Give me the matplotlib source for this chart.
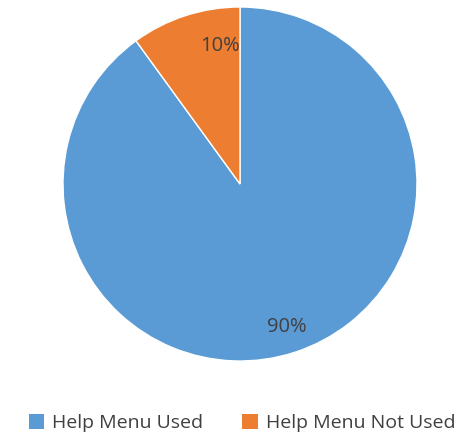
import matplotlib
matplotlib.use("Agg")
import matplotlib.pyplot as plt
from matplotlib.patches import Patch

labels = ["Help Menu Used", "Help Menu Not Used"]
shares = [90, 10]
colors = ["#5B9BD5", "#ED7D31"]

plt.rcParams["font.family"] = ["Open Sans", "DejaVu Sans"]

fig = plt.figure(figsize=(4.66, 4.36), dpi=100)
W, H = 466, 436
cx, cy, r = 240, 184, 177
ax = fig.add_axes([(cx - r) / W, (H - cy - r) / H, 2 * r / W, 2 * r / H])

wedges, texts, autotexts = ax.pie(
    shares, colors=colors, startangle=90, counterclock=False,
    autopct="%d%%", pctdistance=0.85,
    wedgeprops=dict(edgecolor="white", linewidth=1.0),
    textprops=dict(color="#404040", fontsize=14.5),
)
autotexts[1].set_position((-0.11, 0.78))
ax.set_xlim(-1, 1); ax.set_ylim(-1, 1)

handles = [Patch(facecolor=c, label=l) for c, l in zip(colors, labels)]
fig.legend(handles=handles, loc="center", bbox_to_anchor=(242 / W, 1 - 423 / H),
           ncol=2, frameon=False, fontsize=14, handlelength=0.8, handleheight=0.8,
           handletextpad=0.4, columnspacing=2.0, labelcolor="#404040")

fig.savefig("out.png", dpi=100)
